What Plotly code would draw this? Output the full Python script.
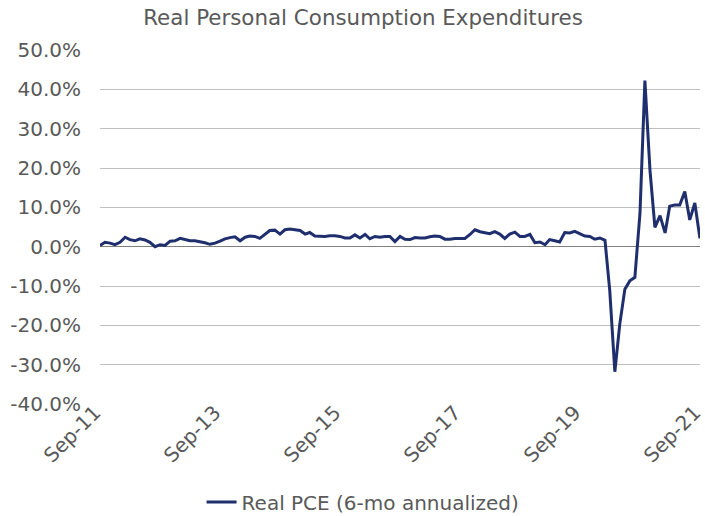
import pandas as pd
import plotly.graph_objects as go

# Monthly observations, Sep-2011 .. Sep-2021
start_month = "2011-09-01"
n_months = 121

pce_6mo_ann = [
    0.3, 1.1, 0.9, 0.5, 1.1, 2.4, 1.8, 1.5, 2.0, 1.7,
    1.1, 0.0, 0.5, 0.3, 1.4, 1.5, 2.1, 1.8, 1.5, 1.5,
    1.3, 1.0, 0.6, 0.9, 1.4, 2.0, 2.3, 2.5, 1.5, 2.4,
    2.7, 2.6, 2.1, 3.1, 4.1, 4.2, 3.2, 4.3, 4.5, 4.3,
    4.1, 3.2, 3.6, 2.7, 2.6, 2.6, 2.8, 2.8, 2.6, 2.2,
    2.2, 3.0, 2.2, 3.1, 2.0, 2.6, 2.4, 2.6, 2.6, 1.3,
    2.6, 1.9, 1.8, 2.3, 2.2, 2.2, 2.5, 2.7, 2.6, 1.9,
    1.9, 2.1, 2.1, 2.1, 3.1, 4.3, 3.8, 3.6, 3.3, 3.8,
    3.2, 2.1, 3.2, 3.7, 2.6, 2.6, 3.1, 1.0, 1.2, 0.5,
    1.8, 1.5, 1.2, 3.6, 3.5, 3.9, 3.2, 2.7, 2.6, 1.9,
    2.2, 1.6, -11.2, -31.8, -19.7, -10.8, -8.7, -7.8, 8.5, 42.2,
    19.4, 4.9, 7.9, 3.5, 10.3, 10.6, 10.6, 14.0, 6.8, 11.1,
    2.1,
]

months = pd.date_range(start_month, periods=n_months, freq="MS")

tick_labels = ["Sep-11", "Sep-13", "Sep-15", "Sep-17", "Sep-19", "Sep-21"]
tick_dates = pd.to_datetime(["2011-09-01", "2013-09-01", "2015-09-01",
                             "2017-09-01", "2019-09-01", "2021-09-01"])

y_ticks = [-40, -30, -20, -10, 0, 10, 20, 30, 40, 50]

series_name = "Real PCE (6-mo annualized)"
title_text = "Real Personal Consumption Expenditures"

gray = "#595959"
font_family = "Verdana, DejaVu Sans, sans-serif"

fig = go.Figure()
fig.add_trace(go.Scatter(
    x=months, y=pce_6mo_ann, mode="lines", name=series_name,
    line=dict(color="#1f2f6e", width=3),
))

fig.update_layout(
    width=705, height=516,
    margin=dict(l=100, r=5, t=50, b=112, autoexpand=False),
    paper_bgcolor="white", plot_bgcolor="white",
    font=dict(family=font_family, color=gray, size=20),
    title=dict(text=title_text, x=0.515, xanchor="center", y=1 - 18 / 516,
               yanchor="middle", yref="container",
               font=dict(size=21.4, color=gray, family=font_family)),
    showlegend=True,
    legend=dict(orientation="h", x=0.515, xanchor="center", xref="container",
                y=1 - 502 / 516, yanchor="middle", yref="container",
                font=dict(size=20, color=gray), itemwidth=30,
                bgcolor="rgba(0,0,0,0)"),
)

fig.update_xaxes(
    type="date",
    range=[months[0], months[-1] + pd.Timedelta(hours=12)],
    tickvals=tick_dates, ticktext=tick_labels,
    tickangle=-45, showgrid=False, showline=False, zeroline=False,
    ticks="", tickfont=dict(size=20, color=gray), automargin=False,
    ticklabeloverflow="allow", ticklabelshift=-5, ticklabelstandoff=-8,
)

fig.update_yaxes(
    range=[-40, 50], tickvals=y_ticks,
    ticktext=[f"{v:.1f}%" for v in y_ticks],
    showgrid=True, gridcolor="#bfbfbf", gridwidth=1,
    zeroline=True, zerolinecolor="#7f7f7f", zerolinewidth=1,
    showline=False, ticks="", ticklabelstandoff=18,
    tickfont=dict(size=20, color=gray), automargin=False,
)

fig.write_html(
    "out.html",
    config={"displayModeBar": False},
    post_script="document.body.style.margin='0';document.body.style.overflow='hidden';",
)
